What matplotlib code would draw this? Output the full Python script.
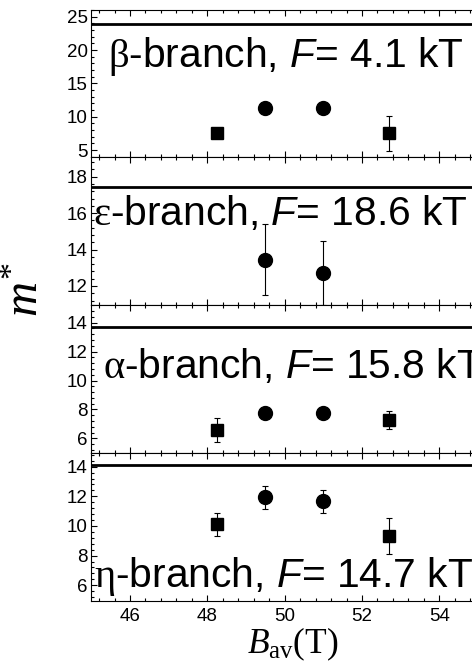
import matplotlib
matplotlib.use("Agg")
import matplotlib.pyplot as plt
from matplotlib.ticker import MultipleLocator

plt.rcParams['font.family'] = ['Liberation Sans', 'DejaVu Sans']
plt.rcParams['mathtext.fontset'] = 'custom'
plt.rcParams['mathtext.rm'] = 'Liberation Serif'
plt.rcParams['mathtext.it'] = 'Liberation Serif:italic'
plt.rcParams['mathtext.sf'] = 'Liberation Sans:italic'

# ---- data ----
B_sq = [48.25, 52.7]
B_ci = [49.5, 51.0]

branches = ["β", "ε", "α", "η"]
freqs = ["4.1", "18.6", "15.8", "14.7"]
ref_lines = [23.9, 17.45, 13.7, 14.1]

beta_sq = [7.5, 7.5]
beta_sq_err = [0.0, 2.6]
beta_ci = [11.27, 11.27]
beta_ci_err = [0.0, 0.0]

eps_sq = []
eps_sq_err = []
eps_ci = [13.43, 12.73]
eps_ci_err = [1.95, 1.75]

alpha_sq = [6.57, 7.25]
alpha_sq_err = [0.82, 0.62]
alpha_ci = [7.78, 7.78]
alpha_ci_err = [0.0, 0.0]

eta_sq = [10.1, 9.32]
eta_sq_err = [0.75, 1.23]
eta_ci = [11.92, 11.65]
eta_ci_err = [0.8, 0.78]

sq_vals = [beta_sq, eps_sq, alpha_sq, eta_sq]
sq_errs = [beta_sq_err, eps_sq_err, alpha_sq_err, eta_sq_err]
ci_vals = [beta_ci, eps_ci, alpha_ci, eta_ci]
ci_errs = [beta_ci_err, eps_ci_err, alpha_ci_err, eta_ci_err]

ylims = [(4.0, 26.0), (10.94, 19.1), (4.97, 15.2), (4.96, 14.9)]
ymajor = [5, 2, 2, 2]
yminor = [1, 0.4, 0.4, 0.4]
text_pos = [(0.043, 0.68), (0.004, 0.62), (0.03, 0.585), (0.007, 0.163)]

fig = plt.figure(figsize=(4.72, 6.64), dpi=100)
W, H = 472.0, 664.0
left = 91.3 / W
width = 386.7 / W
tops = [10.0, 156.7, 305.3, 453.3]
bots = [156.7, 305.3, 453.3, 600.7]

for i in range(4):
    ax = fig.add_axes([left, 1 - bots[i] / H, width, (bots[i] - tops[i]) / H])
    ax.set_xlim(45, 55)
    ax.set_ylim(*ylims[i])
    ax.axhline(ref_lines[i], color='black', lw=2.0)
    if sq_vals[i]:
        ax.errorbar(B_sq[:len(sq_vals[i])], sq_vals[i], yerr=sq_errs[i], fmt='s',
                    color='black', ms=8.5, elinewidth=0.8, capsize=2.2, capthick=0.8)
    if ci_vals[i]:
        ax.errorbar(B_ci[:len(ci_vals[i])], ci_vals[i], yerr=ci_errs[i], fmt='o',
                    color='black', ms=10, elinewidth=0.8, capsize=2.2, capthick=0.8)
    ax.xaxis.set_major_locator(MultipleLocator(2))
    ax.xaxis.set_minor_locator(MultipleLocator(0.4))
    ax.yaxis.set_major_locator(MultipleLocator(ymajor[i]))
    ax.yaxis.set_minor_locator(MultipleLocator(yminor[i]))
    ax.tick_params(which='both', direction='in', top=True, bottom=True, left=True, right=True,
                   width=0.8, labelsize=13.5, pad=2.5)
    ax.tick_params(which='major', length=4.5)
    ax.tick_params(which='minor', length=2.5)
    ax.tick_params(axis='x', pad=5)
    if i < 3:
        ax.tick_params(axis='x', labelbottom=False)
    for s in ax.spines.values():
        s.set_linewidth(0.8)
    tx, ty = text_pos[i]
    ax.text(tx, ty, r"$\mathrm{%s}$-branch, $\mathsf{F}$= %s kT" % (branches[i], freqs[i]),
            transform=ax.transAxes, fontsize=29.3, ha='left', va='center')

fig.text(26 / W, 1 - 290 / H, r"$m^{*}$", rotation=90, fontsize=35,
         ha='center', va='center')
fig.text(293 / W, 1 - 644 / H, r"$B_{\mathrm{av}}\mathrm{(T)}$", fontsize=25.5,
         ha='center', va='center')

fig.savefig("out.png", dpi=100)
